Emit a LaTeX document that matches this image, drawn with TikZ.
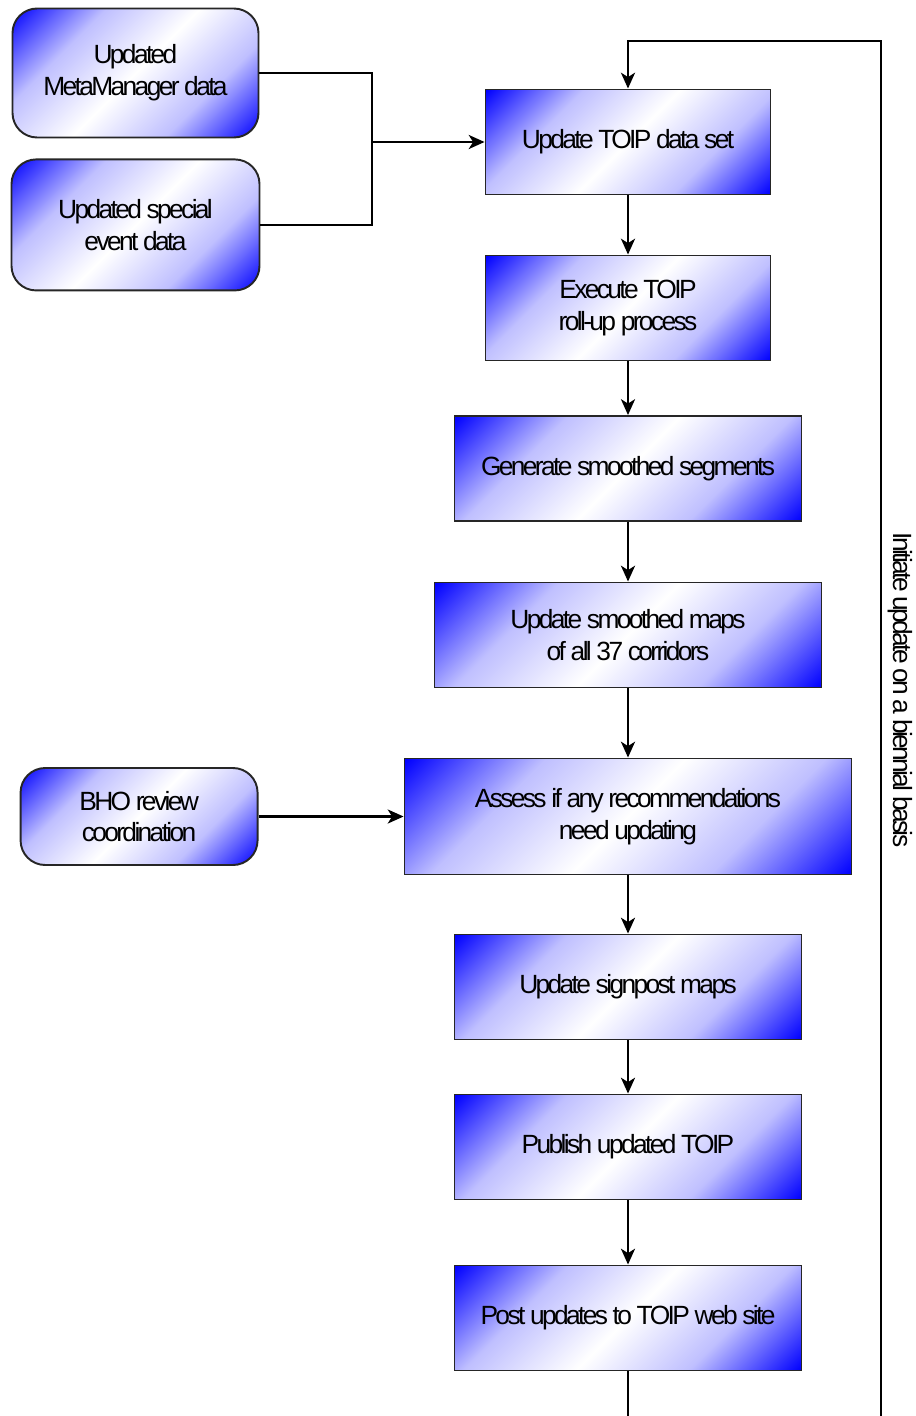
\documentclass[tikz,border=0pt]{standalone}
\usepackage{fontspec}
\setmainfont[LetterSpace=-10]{Liberation Sans}
\usetikzlibrary{positioning, arrows.meta, calc}
\pgfdeclareverticalshading{bwb}{100bp}{color(0bp)=(blue); color(14.6bp)=(blue); color(32.3bp)=(blue!25); color(50bp)=(white); color(67.7bp)=(blue!25); color(85.4bp)=(blue); color(100bp)=(blue)}

\begin{document}
\begin{tikzpicture}[
      box/.style={draw=black!85, line width=1.1pt, shade, shading=bwb, shading angle=45, font=\fontsize{15}{18}\selectfont, align=center, inner sep=2pt},
      rbox/.style={box, rounded corners=14pt},
      sbox/.style={box, minimum height=2.1cm},
      link/.style={line width=1.4pt, -{Stealth[length=9pt, width=8pt, inset=2.5pt]}}]
    \useasboundingbox (0,0) rectangle (18.3,-28.32);
    \node[sbox, minimum width=5.7cm] (upd) at (12.56,-2.84) {Update TOIP data set};
    \node[sbox, minimum width=5.7cm] (exe) at (12.56,-6.16) {Execute TOIP\\roll-up process};
    \node[sbox, minimum width=6.94cm] (gen) at (12.56,-9.37) {Generate smoothed segments};
    \node[sbox, minimum width=7.74cm] (maps) at (12.56,-12.7) {Update smoothed maps\\of all 37 corridors};
    \node[sbox, minimum width=8.94cm, minimum height=2.32cm] (ass) at (12.56,-16.33) {Assess if any recommendations\\need updating};
    \node[sbox, minimum width=6.94cm] (sign) at (12.56,-19.74) {Update signpost maps};
    \node[sbox, minimum width=6.94cm] (pub) at (12.56,-22.94) {Publish updated TOIP};
    \node[sbox, minimum width=6.94cm] (post) at (12.56,-26.36) {Post updates to TOIP web site};
    \node[rbox, minimum width=4.92cm, minimum height=2.58cm] (meta) at (2.71,-1.46) {Updated\\MetaManager data};
    \node[rbox, minimum width=4.96cm, minimum height=2.62cm, below=0.4cm of meta] (spec) {Updated special\\event data};
    \node[rbox, minimum width=4.74cm, minimum height=1.94cm, left=2.9cm of ass] (bho) {BHO review\\coordination};
    \node[rotate=-90, font=\fontsize{15}{18}\selectfont] (lbl) at (18.0,-13.8) {Initiate update on a biennial basis};
    \coordinate (join) at (7.44,-2.84);
    \coordinate (bl) at (12.56,-28.32); \coordinate (br) at (17.62,-28.32); \coordinate (tr) at (17.62,-0.82);
    \draw[line width=1.4pt] (meta.east) -| (join) |- (spec.east);
    \draw[link] (join) -- (upd);
    \draw[link] (upd) -- (exe); \draw[link] (exe) -- (gen);
    \draw[link] (gen) -- (maps); \draw[link] (maps) -- (ass);
    \draw[link] (ass) -- (sign); \draw[link] (sign) -- (pub);
    \draw[link] (pub) -- (post); \draw[link] (bho) -- (ass);
    \draw[line width=1.4pt] (post) -- (bl);
    \draw[link] (br) -- (tr) -| (upd);
  \end{tikzpicture}
\end{document}
